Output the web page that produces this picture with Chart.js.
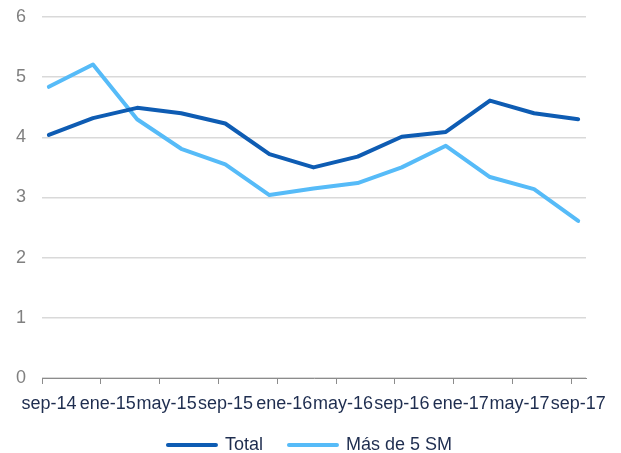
<!DOCTYPE html>
<html>
<head>
<meta charset="utf-8">
<script src="https://cdn.jsdelivr.net/npm/chart.js@4/dist/chart.umd.min.js"></script>
<style>
  html, body { margin: 0; padding: 0; background: #ffffff; }
  #wrap { width: 621px; height: 453px; position: relative; }
</style>
</head>
<body>
<div id="wrap"><canvas id="c" width="621" height="453"></canvas></div>
<script>
// Quarterly observation dates (Spanish month abbreviations)
const categories = ["sep-14","dic-14","mar-15","jun-15","sep-15","dic-15","mar-16","jun-16","sep-16","dic-16","mar-17","jun-17","sep-17"];
const totalValues = [4.04, 4.32, 4.49, 4.40, 4.23, 3.72, 3.50, 3.68, 4.01, 4.09, 4.61, 4.40, 4.30];
const mas5SMValues = [4.84, 5.21, 4.30, 3.81, 3.55, 3.04, 3.15, 3.24, 3.50, 3.86, 3.34, 3.14, 2.61];
const tickLabels = ["sep-14","ene-15","may-15","sep-15","ene-16","may-16","sep-16","ene-17","may-17","sep-17"];
const seriesNames = ["Total", "Más de 5 SM"];
const axisEndLabel = "oct-17";

const monthAbbr = ["ene","feb","mar","abr","may","jun","jul","ago","sep","oct","nov","dic"];
function monthIndex(lbl) {
  const [m, y] = lbl.split("-");
  return (parseInt(y, 10) - 14) * 12 + monthAbbr.indexOf(m) - 8;
}
// observations dated mid-month (Excel date axis)
const midMonth = 14 / 30;
const toPoints = vals => vals.map((v, i) => ({ x: monthIndex(categories[i]) + midMonth, y: v }));

const navy = "#1e2d4f";
const grey = "#808080";
const fontFam = "'Liberation Sans', Arial, sans-serif";

// pull the legend up slightly, center it visually, and let it reach the bottom edge
const legendShift = {
  id: "legendShift",
  afterLayout(chart) {
    const l = chart.legend;
    if (l) {
      l.top -= 5; l.bottom = chart.height; l.height = l.bottom - l.top;
      l.left += 17; l.right += 17;
    }
  }
};

new Chart(document.getElementById("c"), {
  type: "line",
  plugins: [legendShift],
  data: {
    datasets: [
      { label: seriesNames[0], data: toPoints(totalValues), borderColor: "#0e5cb3", backgroundColor: "#0e5cb3",
        borderWidth: 4, pointRadius: 0, tension: 0, borderCapStyle: "round", borderJoinStyle: "round" },
      { label: seriesNames[1], data: toPoints(mas5SMValues), borderColor: "#56bbf8", backgroundColor: "#56bbf8",
        borderWidth: 4, pointRadius: 0, tension: 0, borderCapStyle: "round", borderJoinStyle: "round" }
    ]
  },
  options: {
    responsive: false,
    animation: false,
    devicePixelRatio: 1,
    layout: { padding: { left: 0, right: 35, top: 17, bottom: 0 } },
    plugins: {
      tooltip: { enabled: false },
      legend: {
        position: "bottom",
        maxHeight: 38,
        labels: {
          boxWidth: 48, boxHeight: 0, padding: 26,
          color: navy,
          font: { family: fontFam, size: 18 }
        }
      }
    },
    scales: {
      x: {
        type: "linear",
        min: monthIndex(tickLabels[0]),
        max: monthIndex(axisEndLabel),
        afterBuildTicks: s => { s.ticks = tickLabels.map(l => ({ value: monthIndex(l) })); },
        afterFit: s => { s.paddingLeft = 0; s.paddingRight = 0; s.height = 37; },
        ticks: {
          autoSkip: false, maxRotation: 0, minRotation: 0, includeBounds: false,
          labelOffset: 7, padding: 9,
          color: navy, font: { family: fontFam, size: 18 },
          callback: v => { const i = tickLabels.findIndex(l => monthIndex(l) === v); return i >= 0 ? tickLabels[i] : ""; }
        },
        grid: { drawOnChartArea: false, drawTicks: true, tickLength: 6, color: "#8c8c8c", lineWidth: 1 },
        border: { display: true, color: "#8c8c8c", width: 1 }
      },
      y: {
        min: 0, max: 6,
        afterFit: s => { s.paddingTop = 0; s.paddingBottom = 0; },
        ticks: { stepSize: 1, padding: 16, color: grey, font: { family: fontFam, size: 18 } },
        grid: { color: "#d9d9d9", lineWidth: 1.5, drawTicks: false },
        border: { display: false }
      }
    }
  }
});
</script>
</body>
</html>
